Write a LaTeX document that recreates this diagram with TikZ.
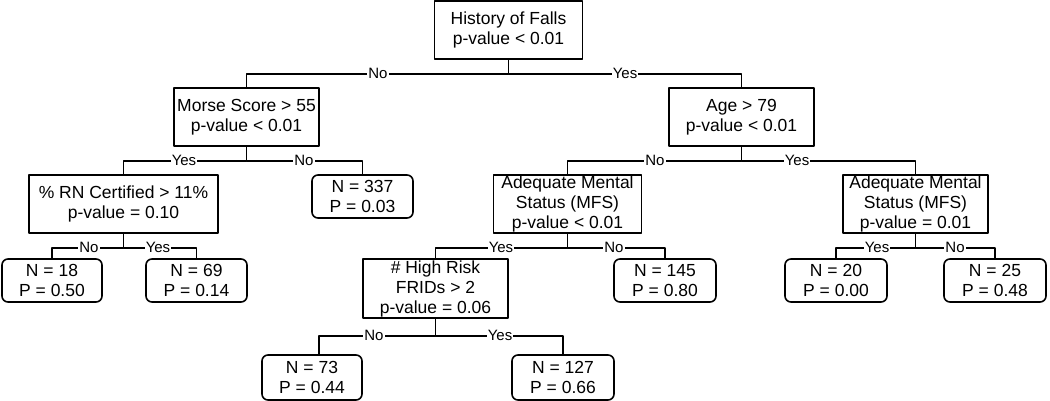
\documentclass[tikz,border=0pt]{standalone}
\usepackage{fontspec}
\setmainfont{Liberation Sans}
\begin{document}
\begin{tikzpicture}[x=1pt,y=-1pt,line join=round,line width=1.6pt,
		font=\fontsize{17.5}{20}\selectfont,
		split/.style={draw,align=center,inner sep=0pt,minimum width=145pt,minimum height=58pt},
		leaf/.style={draw,align=center,inner sep=0pt,rounded corners=6pt,minimum width=101pt,minimum height=43pt},
		lbl/.style={fill=white,inner sep=1pt,font=\fontsize{15}{16}\selectfont}]
		\useasboundingbox (0,0) rectangle (1050,401);
		% splits
		\node[split,minimum width=148pt] (root) at (508.5,30) {History of Falls\\p-value < 0.01};
		\node[split] (morse) at (246.5,117) {Morse Score > 55\\p-value < 0.01};
		\node[split] (age) at (741.5,117) {Age > 79\\p-value < 0.01};
		\node[split,minimum width=189pt] (rn) at (123.5,204) {\% RN Certified > 11\%\\p-value = 0.10};
		\node[split,minimum width=148pt] (amsL) at (567.5,204) {Adequate Mental\\Status (MFS)\\p-value < 0.01};
		\node[split] (amsR) at (915.5,204) {Adequate Mental\\Status (MFS)\\p-value = 0.01};
		\node[split,minimum height=59pt] (hr) at (435.5,288.5) {\# High Risk\\FRIDs > 2\\p-value = 0.06};
		% leaves
		\node[leaf] (n337) at (362.5,196.5) {N = 337\\P = 0.03};
		\node[leaf,minimum width=100pt] (n18) at (52,280.5) {N = 18\\P = 0.50};
		\node[leaf] (n69) at (196.5,280.5) {N = 69\\P = 0.14};
		\node[leaf,minimum width=102pt] (n145) at (665,280.5) {N = 145\\P = 0.80};
		\node[leaf,minimum width=102pt] (n20) at (836,280.5) {N = 20\\P = 0.00};
		\node[leaf,minimum width=102pt] (n25) at (995,280.5) {N = 25\\P = 0.48};
		\node[leaf,minimum width=100pt,minimum height=45pt] (n73) at (312,377.5) {N = 73\\P = 0.44};
		\node[leaf,minimum width=102pt,minimum height=45pt] (n127) at (563,377.5) {N = 127\\P = 0.66};
		% branches
		\draw (root.south) -- ++(0,14) -| (morse.north);
		\draw (root.south) -- ++(0,14) -| (age.north);
		\draw (morse.south) -- ++(0,14) -| (rn.north);
		\draw (morse.south) -- ++(0,14) -| (n337.north);
		\draw (age.south) -- ++(0,14) -| (amsL.north);
		\draw (age.south) -- ++(0,14) -| (amsR.north);
		\draw (rn.south) -- ++(0,14) -| (n18.north);
		\draw (rn.south) -- ++(0,14) -| (n69.north);
		\draw (amsL.south) -- ++(0,14) -| (hr.north);
		\draw (amsL.south) -- ++(0,14) -| (n145.north);
		\draw (amsR.south) -- ++(0,14) -| (n20.north);
		\draw (amsR.south) -- ++(0,14) -| (n25.north);
		\draw (hr.south) -- ++(0,17) -| ([xshift=7pt]n73.north);
		\draw (hr.south) -- ++(0,17) -| (n127.north);
		% branch labels
		\node[lbl] (l1) at (378,73) {No};
		\node[lbl] (l2) at (625,73) {Yes};
		\node[lbl] (l3) at (184,160) {Yes};
		\node[lbl] (l4) at (304,160) {No};
		\node[lbl] (l5) at (655,160) {No};
		\node[lbl] (l6) at (797,160) {Yes};
		\node[lbl] (l7) at (89,247) {No};
		\node[lbl] (l8) at (158,247) {Yes};
		\node[lbl] (l9) at (501,247) {Yes};
		\node[lbl] (l10) at (614,247) {No};
		\node[lbl] (l11) at (877,247) {Yes};
		\node[lbl] (l12) at (955,247) {No};
		\node[lbl] (l13) at (374,335) {No};
		\node[lbl] (l14) at (500,335) {Yes};
\end{tikzpicture}
\end{document}
